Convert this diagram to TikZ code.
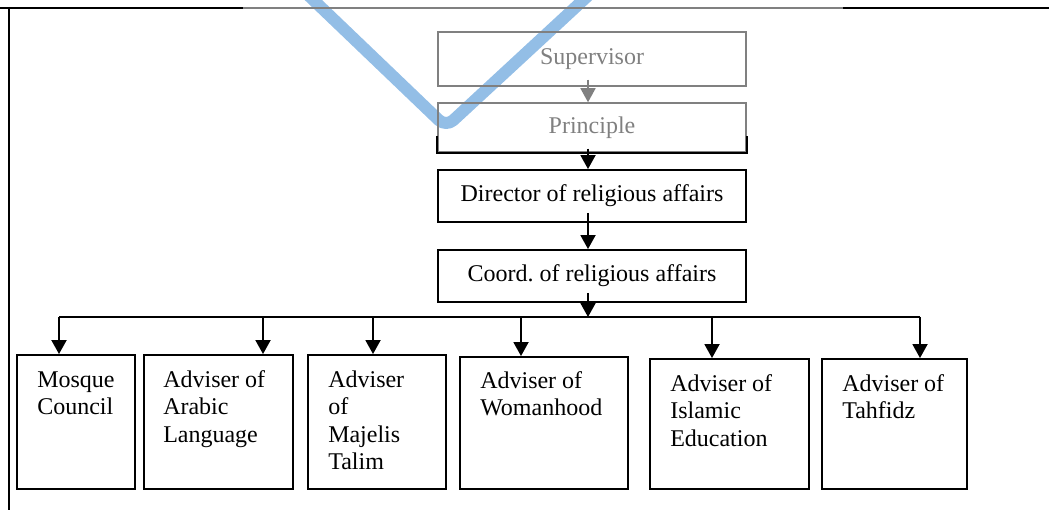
\documentclass[tikz,border=0pt]{standalone}
\usepackage{fontspec}
\setmainfont{Liberation Serif}
\usetikzlibrary{arrows.meta,calc}
\definecolor{wmblue}{RGB}{111,168,222}
\definecolor{softgrey}{RGB}{128,128,128}
\tikzset{
  box/.style={draw=black, line width=1.9pt, rectangle, inner sep=0pt},
  greybox/.style={draw=softgrey, line width=1.5pt, rectangle, inner sep=0pt, text=softgrey},
  arr/.style={line width=1.9pt, -{Triangle[width=15pt,length=14pt]}},
  greyarr/.style={draw=softgrey, line width=1.5pt, -{Triangle[width=15pt,length=14pt,fill=softgrey]}},
  lbl/.style={inner sep=0pt, anchor=base west},
  wm/.style={draw=wmblue, line width=12pt, opacity=0.75, line cap=round, line join=round}
}
\begin{document}
\frenchspacing
\begin{tikzpicture}[x=1pt,y=-1pt, font=\fontsize{24}{27.5}\selectfont]
\useasboundingbox (0,0) rectangle (1049,510);
% watermark
\draw[wm, rounded corners=10pt] (305,-8) -- (446,127) -- (592,-8);
% frame
\draw[line width=2pt] (0,8) -- (243,8);
\draw[softgrey, line width=1.5pt] (243,8) -- (843,8);
\draw[line width=2pt] (843,8) -- (1049,8);
\draw[line width=2pt] (9,7) -- (9,510);
% top chain
\node[greybox, minimum width=308pt, minimum height=54pt] (sup) at (592,59) {Supervisor};
\node[greybox, minimum width=308pt, minimum height=49pt] (pri) at (592,127.5) {Principle};
\draw[line width=1.9pt] ($(pri.south west)+(0,-17)$) -- (pri.south west) -- (pri.south east) -- ($(pri.south east)+(0,-17)$);
\node[box, minimum width=308pt, minimum height=52pt] (dir) at (592,196) {Director of religious affairs};
\node[box, minimum width=308pt, minimum height=52pt] (coo) at (592,276) {Coord.\ of religious affairs};
\coordinate (ax) at (588,0);
\draw[greyarr] ($(sup.south -| ax)+(0,-7)$) -- (pri.north -| ax);
\draw[arr] ($(pri.south -| ax)+(0,-4)$) -- (dir.north -| ax);
\draw[arr] ($(dir.south -| ax)+(0,-10)$) -- (coo.north -| ax);
\coordinate (hub) at (588,317);
\draw[arr] ($(coo.south -| ax)+(0,-10)$) -- (hub);
% bottom boxes
\node[box, minimum width=118pt, minimum height=134pt] (m1) at (76,422) {};
\node[box, minimum width=149pt, minimum height=134pt] (m2) at (218.5,422) {};
\node[box, minimum width=138pt, minimum height=134pt] (m3) at (377,422) {};
\node[box, minimum width=168pt, minimum height=132pt] (m4) at (544,423) {};
\node[box, minimum width=159pt, minimum height=130pt] (m5) at (729.5,424) {};
\node[box, minimum width=145pt, minimum height=130pt] (m6) at (894.5,424) {};
\node[lbl] (l1) at ($(m1.north west)+(21,33)$) {\parbox[t]{100pt}{\raggedright Mosque\\Council}};
\node[lbl] (l2) at ($(m2.north west)+(20,33)$) {\parbox[t]{130pt}{\raggedright Adviser of\\Arabic\\Language}};
\node[lbl] (l3) at ($(m3.north west)+(21,33)$) {\parbox[t]{115pt}{\raggedright Adviser\\of\\Majelis\\Talim}};
\node[lbl] (l4) at ($(m4.north west)+(21,32)$) {\parbox[t]{145pt}{\raggedright Adviser of\\Womanhood}};
\node[lbl] (l5) at ($(m5.north west)+(21,33)$) {\parbox[t]{135pt}{\raggedright Adviser of\\Islamic\\Education}};
\node[lbl] (l6) at ($(m6.north west)+(21,33)$) {\parbox[t]{120pt}{\raggedright Adviser of\\Tahfidz}};
% bus
\coordinate (t1) at (59,317);
\coordinate (t2) at (263,317);
\coordinate (t3) at (373,317);
\coordinate (t4) at (521,317);
\coordinate (t5) at (712,317);
\coordinate (t6) at (920,317);
\draw[line width=1.9pt] (t1) -- (t6);
\draw[arr] (t1) -- (t1 |- m1.north);
\draw[arr] (t2) -- (t2 |- m2.north);
\draw[arr] (t3) -- (t3 |- m3.north);
\draw[arr] (t4) -- (t4 |- m4.north);
\draw[arr] (t5) -- (t5 |- m5.north);
\draw[arr] (t6) -- (t6 |- m6.north);
\end{tikzpicture}
\end{document}
